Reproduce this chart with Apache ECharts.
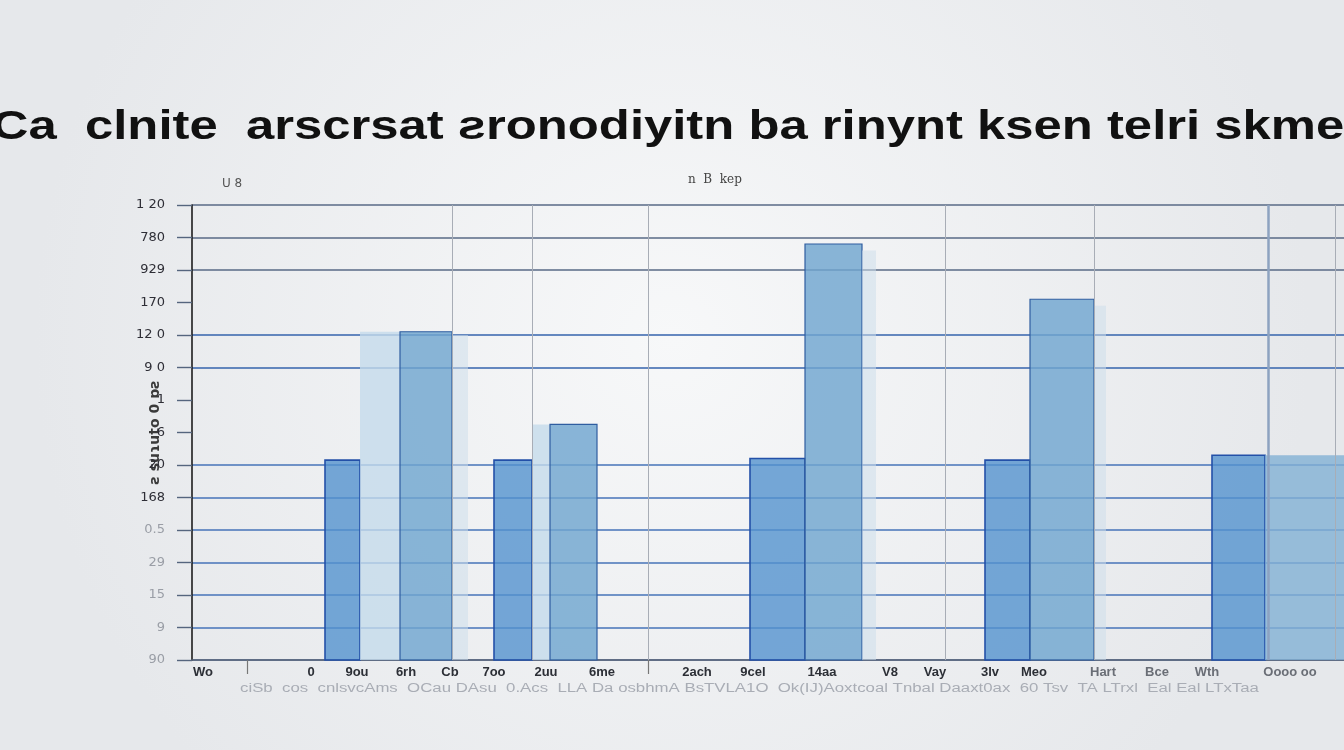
<!DOCTYPE html>
<html>
<head>
<meta charset="utf-8">
<script src="https://cdn.jsdelivr.net/npm/echarts@6/dist/echarts.min.js"></script>
<style>
html,body{margin:0;padding:0;width:1344px;height:750px;overflow:hidden;background:#eef0f2;}
#chart{width:1344px;height:750px;}
</style>
</head>
<body>
<div id="chart"></div>
<script>
// ---- data ----
const titleText = 'Ca  clnite  arscrsat ƨronodiyitn ba rinynt ksen telri skme';
const yTickLabels = ['90', '9', '15', '29', '0.5', '168', '20', '6', '1', '9 0', '12 0', '170', '929', '780', '1 20'];
const xCategoryLabels = ['Wo', '0', '9ou', '6rh', 'Cb', '7oo', '2uu', '6me', '2ach', '9cel', '14aa', 'V8', 'Vay', '3lv', 'Meo', 'Hart', 'Bce', 'Wth', 'Oooo oo'];
const xCategoryAt = [11, 119, 165, 214, 258, 302, 354, 410, 505, 561, 630, 698, 743, 798, 842, 911, 965, 1015, 1098];
// histogram-like bins: start, end, height, kind
const binStart  = [133, 168, 208, 260, 302, 340, 358, 558, 613, 670, 793, 838, 902, 1020, 1073];
const binEnd    = [168, 208, 260, 276, 340, 358, 405, 613, 670, 684, 838, 902, 914, 1073, 1152];
const binHeight = [6.15, 10.1, 10.1, 10.0, 6.15, 7.25, 7.25, 6.2, 12.8, 12.6, 6.15, 11.1, 10.9, 6.3, 6.3];
const binKind   = ['dark', 'light', 'mid', 'shadow', 'dark', 'light', 'mid', 'dark', 'mid', 'shadow', 'dark', 'mid', 'shadow', 'dark', 'pale'];
const guideLinesAt = [260, 340, 456, 753, 902, 1143];
const strongGuideAt = [1076];
const yAxisName = 'ƨ suɿuto 0 ɒƨ';
const footText = 'ciSb  cos  cnlsvcAms  OCau DAsu  0.Acs  LLA Da osbhmA BsTVLA1O  Ok(IJ)Aoxtcoal Tnbal Daaxt0ax  60 Tsv  TA LTrxl  Eal Eal LTxTaa';
const smallNotes = ['U 8', 'n  B  kep'];

// ---- styles ----
const kindStyle = {
  dark:   {fill: 'rgba(84,146,206,0.80)',  stroke: '#2350a8', lw: 1.6},
  light:  {fill: 'rgba(196,219,235,0.80)', stroke: 'rgba(0,0,0,0)', lw: 0},
  mid:    {fill: 'rgba(112,166,208,0.82)', stroke: '#2f5da0', lw: 1.2},
  shadow: {fill: 'rgba(205,222,235,0.55)', stroke: 'rgba(0,0,0,0)', lw: 0},
  pale:   {fill: 'rgba(130,176,212,0.80)', stroke: 'rgba(0,0,0,0)', lw: 0}
};
const kindIndex = Object.keys(kindStyle);

const labelMap = {};
xCategoryAt.forEach((v, i) => { labelMap[v] = xCategoryLabels[i]; });

const splitColors = yTickLabels.map((_, i) => {
  if (i === 7 || i === 8 || i === 11) return 'rgba(0,0,0,0)';
  if (i >= 12) return '#586a86';
  if (i >= 9) return '#3563ad';
  return '#4673b9';
});

const binData = binStart.map((s, i) => [s, binEnd[i], binHeight[i], kindIndex.indexOf(binKind[i])]);

const chart = echarts.init(document.getElementById('chart'), null, {renderer: 'canvas'});
chart.setOption({
  backgroundColor: {
    type: 'radial', x: 0.5, y: 0.45, r: 0.85,
    colorStops: [{offset: 0, color: '#f7f8f9'}, {offset: 1, color: '#e6e8eb'}]
  },
  animation: false,
  graphic: [
    {type: 'text', x: 668, y: 128, scaleX: 1.27, style: {text: titleText, fontSize: 40, fontWeight: 'bold', fontFamily: 'Liberation Sans', fill: '#111', align: 'center', verticalAlign: 'middle'}},
    {type: 'text', left: 222, top: 178, style: {text: smallNotes[0], fontSize: 12, fill: '#555', fontFamily: 'DejaVu Sans'}},
    {type: 'text', left: 688, top: 174, style: {text: smallNotes[1], fontSize: 12, fill: '#444', fontFamily: 'DejaVu Serif'}},
    {type: 'text', x: 240, y: 683, scaleX: 1.4, style: {text: footText, fontSize: 12, fill: '#a9adb5', fontFamily: 'Liberation Sans'}}
  ],
  grid: {left: 192, right: 0, top: 205, bottom: 90, containLabel: false},
  xAxis: {
    type: 'value', min: 0, max: 1152,
    axisLine: {show: true, onZero: false, lineStyle: {color: '#5b6270', width: 1.5}},
    axisTick: {show: true, customValues: [55, 456], length: 14, inside: false, lineStyle: {color: '#777', width: 1.2}},
    splitLine: {show: false},
    axisLabel: {
      customValues: xCategoryAt, margin: 6,
      formatter: v => labelMap[v] || '',
      fontFamily: 'Liberation Sans Narrow, Liberation Sans', fontWeight: 'bold', fontSize: 13,
      color: (v) => v >= 900 ? '#6a6e76' : '#2c2f36'
    }
  },
  yAxis: {
    type: 'value', min: 0, max: 14, interval: 1,
    name: yAxisName, nameLocation: 'middle', nameRotate: 90, nameGap: 30, nameMoveOverlap: false,
    nameTextStyle: {fontSize: 14, color: '#3a3a3a', fontFamily: 'DejaVu Sans', fontWeight: 'bold'},
    axisLine: {show: true, lineStyle: {color: '#1d1d1d', width: 1.6}},
    axisTick: {show: true, length: 15, lineStyle: {color: '#55657e', width: 1.4}},
    splitLine: {show: true, lineStyle: {color: splitColors, width: 1.5}},
    axisLabel: {
      margin: 27, fontSize: 13, fontFamily: 'DejaVu Sans',
      formatter: (v) => yTickLabels[Math.round(v)] || '',
      color: (v) => (v <= 4 ? '#9a9ea6' : '#2e2e36')
    }
  },
  series: [
    {
      type: 'custom',
      data: binData,
      encode: {x: [0, 1], y: 2},
      renderItem: (params, api) => {
        const k = kindStyle[kindIndex[api.value(3)]];
        const p0 = api.coord([api.value(0), api.value(2)]);
        const p1 = api.coord([api.value(1), 0]);
        return {
          type: 'rect',
          shape: {x: p0[0], y: p0[1], width: p1[0] - p0[0], height: p1[1] - p0[1]},
          style: {fill: k.fill, stroke: k.stroke, lineWidth: k.lw}
        };
      },
      markLine: {
        symbol: 'none', silent: true, label: {show: false},
        lineStyle: {type: 'solid', color: '#a8adb6', width: 1},
        data: guideLinesAt.map(v => ({xAxis: v})).concat(
          strongGuideAt.map(v => ({xAxis: v, lineStyle: {color: '#8da2c0', width: 2.5}})))
      },
      z: 3
    }
  ]
});
</script>
</body>
</html>
